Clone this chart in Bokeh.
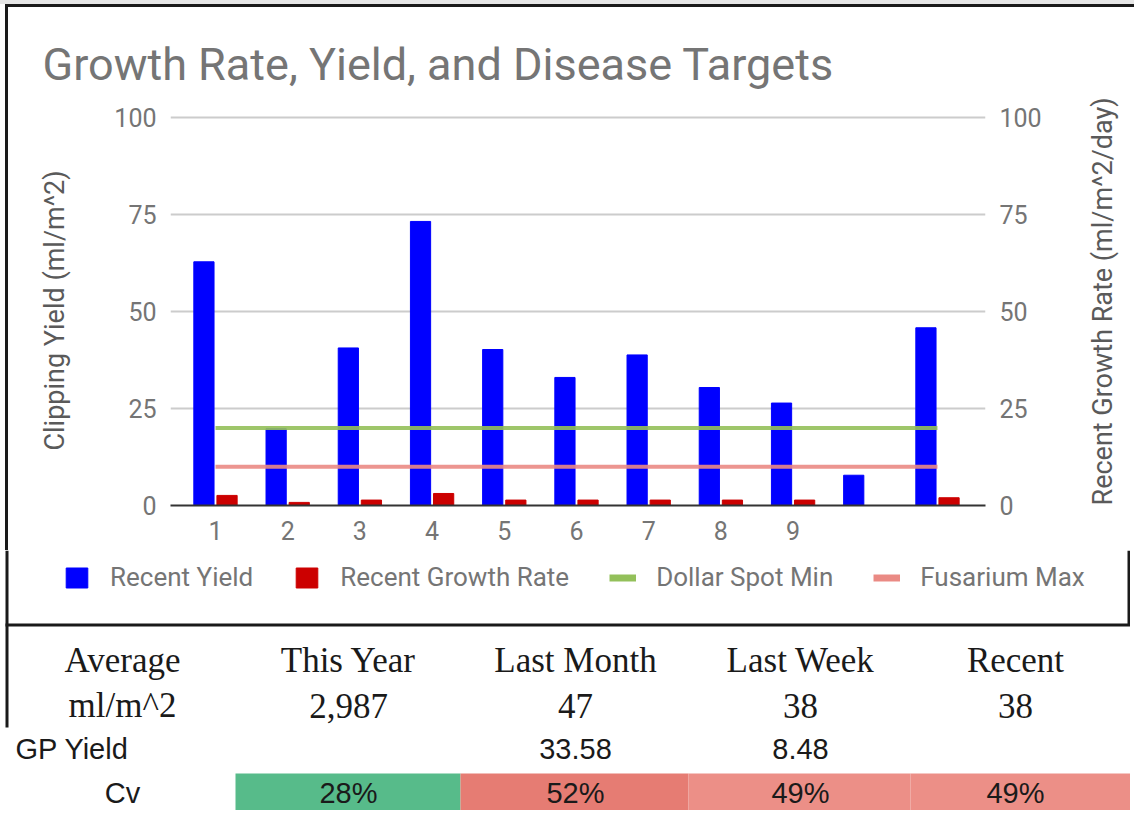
import math
from bokeh.plotting import figure
from bokeh.models import Range1d, LinearAxis, Legend, LegendItem, ColumnDataSource
from bokeh.layouts import column
from bokeh.transform import dodge
from bokeh.core.properties import value
from bokeh.embed import file_html
from bokeh.resources import INLINE

# ---------------- data ----------------
categories = [1, 2, 3, 4, 5, 6, 7, 8, 9, 10, 11]
x_tick_labels = ["1", "2", "3", "4", "5", "6", "7", "8", "9", "", ""]
recent_yield = [62.8, 19.8, 40.6, 73.2, 40.2, 33.0, 38.8, 30.4, 26.4, 7.8, 45.8]
recent_growth_rate = [2.6, 0.8, 1.4, 3.1, 1.4, 1.4, 1.4, 1.4, 1.4, 0.0, 2.0]
dollar_spot_min = [20, 20, 20, 20, 20, 20, 20, 20, 20, 20, 20]
fusarium_max = [10, 10, 10, 10, 10, 10, 10, 10, 10, 10, 10]
y_ticks = [0, 25, 50, 75, 100]
series_names = ["Recent Yield", "Recent Growth Rate", "Dollar Spot Min", "Fusarium Max"]

table_header = ["Average", "This Year", "Last Month", "Last Week", "Recent"]
table_units = ["ml/m^2", "2,987", "47", "38", "38"]
table_gp = ["GP Yield", "", "33.58", "8.48", ""]
table_cv = ["Cv", "28%", "52%", "49%", "49%"]
cv_colors = ["#57bb8a", "#e67c73", "#ec8f87", "#ec8f87"]

# ---------------- styles ----------------
W = 1130
H_TOTAL = 810
GRAY = "#757575"
FONT = "Roboto"
BLUE, RED, GREEN, PINK = "#0000ff", "#cc0000", "#93c05a", "#ea8a84"
INK = "#1a1a1a"

src = ColumnDataSource(dict(x=categories, yld=recent_yield, gr=recent_growth_rate,
                            dsm=dollar_spot_min, fm=fusarium_max))

FL, FW, FT, FH, FB = 170, 815, 115, 390, 45
frame_css = ("inset 0 4px 0 0 #e6e6e6, inset 5px 0 0 0 #ffffff, "
             "inset 0 7px 0 0 #1a1a1a, inset 8px 0 0 0 #1a1a1a, inset -3px 0 0 0 #1a1a1a")
p = figure(frame_width=FW, frame_height=FH, output_backend="svg", toolbar_location=None,
           x_range=Range1d(0.377, 11.665), y_range=Range1d(0, 100.5),
           min_border_left=FL, min_border_right=W - FL - FW, min_border_top=FT,
           min_border_bottom=FB, frame_align=False,
           title="Growth Rate, Yield, and Disease Targets",
           styles={"box-shadow": frame_css})
p.extra_y_ranges = {"right": Range1d(0, 100.5)}
p.outline_line_color = None
p.background_fill_color = "white"
p.border_fill_color = None

p.title.text_font = FONT
p.title.text_font_size = "45px"
p.title.text_font_style = "normal"
p.title.text_color = GRAY
p.title.align = "left"
p.title.offset = 42 - FL
p.title.standoff = 50

r_y = p.vbar(x=dodge("x", -0.16, range=p.x_range), top="yld", width=0.28, bottom=0,
             source=src, fill_color=BLUE, line_color=BLUE)
r_g = p.vbar(x=dodge("x", 0.16, range=p.x_range), top="gr", width=0.28, bottom=0,
             source=src, fill_color=RED, line_color=RED, y_range_name="right")
r_d = p.line("x", "dsm", source=src, line_color=GREEN, line_width=4, line_alpha=0.9)
r_f = p.line("x", "fm", source=src, line_color=PINK, line_width=4, line_alpha=0.9)

# axes
p.xaxis.ticker = categories
p.xaxis.major_label_overrides = {c: l for c, l in zip(categories, x_tick_labels)}
p.xaxis.axis_line_color = "#333333"
p.xaxis.axis_line_width = 2
p.xaxis.major_tick_line_color = None
p.xaxis.minor_tick_line_color = None
p.xaxis.major_label_standoff = 9
p.xaxis.major_label_text_font = FONT
p.xaxis.major_label_text_font_size = "25px"
p.xaxis.major_label_text_color = GRAY

yl = p.yaxis[0]
yr = LinearAxis(y_range_name="right")
p.add_layout(yr, "right")
for ax, lab in ((yl, "Clipping Yield (ml/m^2)"), (yr, "Recent Growth Rate (ml/m^2/day)")):
    ax.ticker = y_ticks
    ax.axis_line_color = None
    ax.major_tick_line_color = None
    ax.minor_tick_line_color = None
    ax.major_label_standoff = 8
    ax.major_label_text_font = FONT
    ax.major_label_text_font_size = "25px"
    ax.major_label_text_color = GRAY
    ax.axis_label = lab
    ax.axis_label_text_font = FONT
    ax.axis_label_text_font_size = "27px"
    ax.axis_label_text_font_style = "normal"
    ax.axis_label_text_color = "#5a5a5a"
    ax.axis_label_standoff = 40
props = yr.properties()
if "axis_label_orientation" in props and "axis_label_align" in props:
    yr.axis_label_orientation = math.pi / 2
    yr.axis_label_align = "start"
    yr.axis_label_standoff = 58

p.ygrid.ticker = y_ticks
p.ygrid.grid_line_color = "#cccccc"
p.ygrid.grid_line_width = 2
p.xgrid.visible = False

# ---------------- lower part: legend + table ----------------
TOP = FT + FH + FB           # page y where the lower figure starts
TH = H_TOTAL - TOP
t = figure(width=W, height=TH, output_backend="svg", toolbar_location=None,
           x_range=Range1d(0, W), y_range=Range1d(H_TOTAL, TOP), min_border=0,
           frame_align=False)
t.axis.visible = False
t.grid.visible = False
t.outline_line_color = None
t.background_fill_color = None
t.border_fill_color = None

col_x = [122, 348, 575, 800, 1015]
cell_edges = [235, 460, 688, 910, W]
row_y = [660, 705, 748, 792]
cv_top = 773

# legend swatches styled like the chart's series; their single point is
# hidden underneath the opaque Cv cell drawn afterwards
HX, HY = col_x[1], row_y[3]
k_y = t.vbar(x=[HX], top=[HY - 2], bottom=[HY + 2], width=1, fill_color=BLUE, line_color=BLUE)
k_g = t.vbar(x=[HX], top=[HY - 2], bottom=[HY + 2], width=1, fill_color=RED, line_color=RED)
k_d = t.line(x=[HX, HX + 1], y=[HY, HY], line_color=GREEN, line_width=7)
k_f = t.line(x=[HX, HX + 1], y=[HY, HY], line_color=PINK, line_width=7)
legend = Legend(items=[LegendItem(label=n, renderers=[r]) for n, r in
                       zip(series_names, [k_y, k_g, k_d, k_f])],
                orientation="horizontal", location=(63, H_TOTAL - 592))
legend.label_text_font = FONT
legend.label_text_font_size = "26px"
legend.label_text_color = GRAY
legend.glyph_width = 27
legend.glyph_height = 25
legend.label_standoff = 20
legend.spacing = 40
legend.padding = 0
legend.margin = 0
legend.border_line_color = None
legend.background_fill_alpha = 0
t.add_layout(legend, "center")

SERIF = value("Liberation Serif")
SANS = value("Liberation Sans")

t.quad(left=cell_edges[:-1], right=cell_edges[1:], top=cv_top, bottom=H_TOTAL,
       fill_color=cv_colors, line_color=None)

# chart frame border continued (left, right, bottom)
t.segment(x0=[6.5, W - 1.5, 5], y0=[TOP, TOP, 624.5], x1=[6.5, W - 1.5, W],
          y1=[727, 624.5, 624.5], line_color=INK, line_width=3)

t.text(x=col_x, y=[row_y[0]] * 5, text=table_header, text_font=SERIF,
       text_font_size="35px", text_align="center", text_baseline="middle", text_color=INK)
t.text(x=col_x, y=[row_y[1]] * 5, text=table_units, text_font=SERIF,
       text_font_size="35px", text_align="center", text_baseline="middle", text_color=INK)
t.text(x=[15], y=[row_y[2]], text=table_gp[:1], text_font=SANS,
       text_font_size="29px", text_align="left", text_baseline="middle", text_color=INK)
t.text(x=col_x[1:], y=[row_y[2]] * 4, text=table_gp[1:], text_font=SANS,
       text_font_size="29px", text_align="center", text_baseline="middle", text_color=INK)
t.text(x=col_x, y=[row_y[3]] * 5, text=table_cv, text_font=SANS,
       text_font_size="29px", text_align="center", text_baseline="middle", text_color=INK)

layout = column(p, t, spacing=0)
open("out.html", "w").write(file_html(layout, INLINE))
